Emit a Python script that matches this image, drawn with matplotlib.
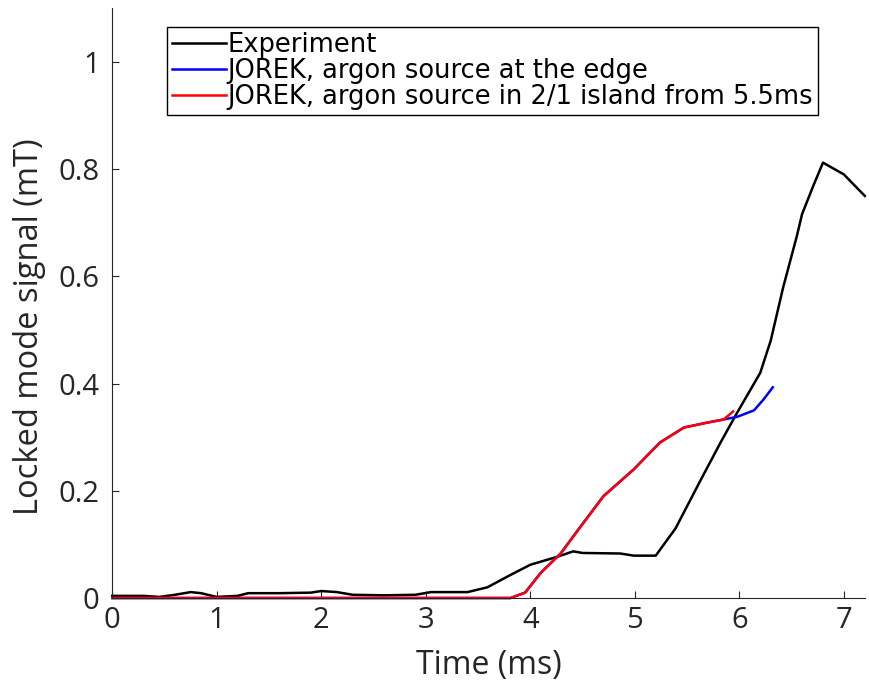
import numpy as np
import matplotlib
matplotlib.use('Agg')
import matplotlib.pyplot as plt

# values
exp_t = [0.0, 0.3, 0.45, 0.6, 0.75, 0.85, 1.0, 1.2, 1.3, 1.6, 1.9, 2.0, 2.15, 2.3, 2.6, 2.9,
         3.05, 3.4, 3.59, 3.81, 4.0, 4.26, 4.41, 4.5, 4.86, 4.99, 5.2, 5.39, 5.63, 5.82,
         5.98, 6.2, 6.3, 6.42, 6.55, 6.6, 6.71, 6.8, 7.0, 7.2]
exp_y = [0.004, 0.004, 0.002, 0.006, 0.011, 0.009, 0.002, 0.004, 0.009, 0.009, 0.01, 0.013,
         0.011, 0.006, 0.005, 0.006, 0.011, 0.011, 0.02, 0.043, 0.062, 0.077, 0.087, 0.084,
         0.083, 0.079, 0.079, 0.13, 0.22, 0.29, 0.346, 0.42, 0.48, 0.58, 0.675, 0.716,
         0.77, 0.812, 0.79, 0.75]

edge_t = [0.0, 3.81, 3.95, 4.1, 4.29, 4.48, 4.7, 4.99, 5.24, 5.47, 5.69, 5.85, 5.98,
          6.14, 6.23, 6.32]
edge_y = [0.0, 0.0, 0.01, 0.047, 0.083, 0.133, 0.19, 0.24, 0.29, 0.318, 0.327, 0.333,
          0.338, 0.35, 0.37, 0.393]

island_t = [0.0, 3.81, 3.95, 4.1, 4.29, 4.48, 4.7, 4.99, 5.24, 5.47, 5.69, 5.85, 5.94]
island_y = [0.0, 0.0, 0.01, 0.047, 0.083, 0.133, 0.19, 0.24, 0.29, 0.318, 0.327, 0.333,
            0.348]

plt.rcParams['font.family'] = ['Open Sans', 'DejaVu Sans']
txt = '#262626'

fig = plt.figure(figsize=(8.7, 6.85), dpi=100)
ax = fig.add_axes([0.129, 0.127, 0.865, 0.861])

ax.plot(exp_t, exp_y, color='black', lw=1.8, label='Experiment', clip_on=False)
ax.plot(edge_t, edge_y, color='#0000ff', lw=1.8, label='JOREK, argon source at the edge',
        clip_on=False)
ax.plot(island_t, island_y, color='#ff0000', lw=1.8,
        label='JOREK, argon source in 2/1 island from 5.5ms', clip_on=False)

ax.set_xlim(0, 7.2)
ax.set_ylim(0, 1.1)
ax.set_xticks(np.arange(0, 8, 1))
ax.set_yticks([0, 0.2, 0.4, 0.6, 0.8, 1])
ax.set_yticklabels(['0', '0.2', '0.4', '0.6', '0.8', '1'])
ax.tick_params(direction='in', length=5, labelsize=21, colors=txt)
ax.tick_params(axis='y', pad=9)
ax.tick_params(axis='x', pad=6)
for s in ['top', 'right']:
    ax.spines[s].set_visible(False)
for s in ['left', 'bottom']:
    ax.spines[s].set_color(txt)
ax.set_xlabel('Time (ms)', fontsize=23, color=txt, labelpad=10)
ax.set_ylabel('Locked mode signal (mT)', fontsize=23.5, color=txt)
ax.yaxis.set_label_coords(-0.088, 0.46)

leg = ax.legend(loc='upper left', bbox_to_anchor=(0.073, 0.969),
                prop={'family': 'DejaVu Sans', 'size': 18.5},
                handlelength=2.1, handletextpad=0.05, borderpad=0.2, labelspacing=0.0,
                borderaxespad=0, fancybox=False, framealpha=1)
leg.get_frame().set_edgecolor('black')
leg.get_frame().set_linewidth(1.0)

fig.savefig('out.png', dpi=100)
